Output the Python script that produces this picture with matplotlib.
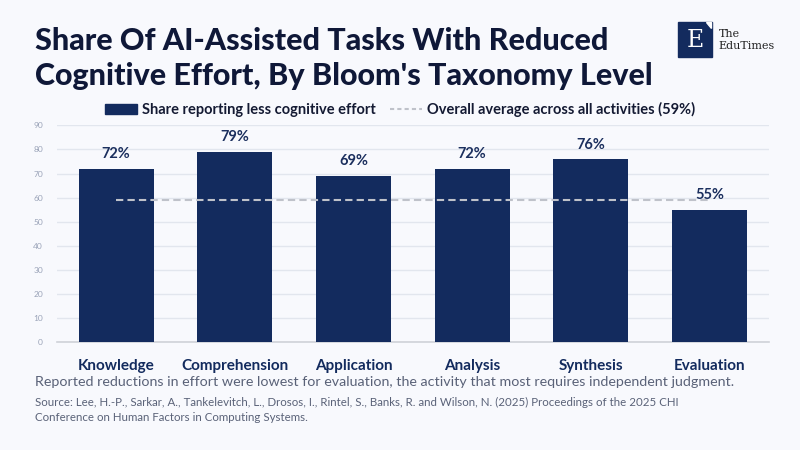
import matplotlib.pyplot as plt
from matplotlib.lines import Line2D
from matplotlib.patches import Patch, Rectangle, Polygon

categories = ["Knowledge", "Comprehension", "Application", "Analysis", "Synthesis", "Evaluation"]
shares = [72, 79, 69, 72, 76, 55]
average = 59
yticks = [0, 10, 20, 30, 40, 50, 60, 70, 80, 90]

title = "Share Of AI-Assisted Tasks With Reduced\nCognitive Effort, By Bloom's Taxonomy Level"
note = "Reported reductions in effort were lowest for evaluation, the activity that most requires independent judgment."
source = ("Source: Lee, H.-P., Sarkar, A., Tankelevitch, L., Drosos, I., Rintel, S., Banks, R. and Wilson, N. (2025) "
          "Proceedings of the 2025 CHI\nConference on Human Factors in Computing Systems.")

bg = "#f8f9fd"
navy = "#132b5e"
dark = "#0f1838"

plt.rcParams['font.family'] = ['Lato', 'DejaVu Sans']

fig = plt.figure(figsize=(8, 4.5), dpi=100, facecolor=bg)
ax = fig.add_axes([0.071, 0.239, 0.890, 0.4826])
ax.set_facecolor(bg)

x = list(range(len(categories)))
ax.bar(x, shares, width=0.63, color=navy, zorder=3)
ax.plot([x[0], x[-1]], [average, average], color="#bfc2ca", lw=1.5, ls=(0, (3.5, 2)), zorder=4)

for xi, v in zip(x, shares):
    ax.text(xi, v + 6, f"{v}%", ha="center", va="center", fontsize=10.5,
            fontweight="bold", color="#1b2f5e", zorder=5)

ax.set_xlim(-0.5, 5.5)
ax.set_ylim(0, 90)
ax.set_yticks(yticks)
ax.set_yticklabels([str(t) for t in yticks], fontsize=6, color="#9aa3b8")
ax.set_xticks(x)
ax.set_xticklabels(categories, fontsize=11, fontweight="bold", color=navy)
ax.tick_params(axis="y", length=0, pad=10)
ax.tick_params(axis="x", length=0, pad=12)
ax.grid(axis="y", color="#e2e6ee", lw=1, zorder=0)
for s in ["top", "right", "left"]:
    ax.spines[s].set_visible(False)
ax.spines["bottom"].set_color("#cfd2d8")
ax.spines["bottom"].set_linewidth(1.2)

handles = [Patch(color=navy, label="Share reporting less cognitive effort"),
           Line2D([0], [0], color="#bfc2ca", lw=1.5, ls=(0, (2, 1.5)),
                  label="Overall average across all activities (59%)")]
fig.legend(handles=handles, loc="center", bbox_to_anchor=(0.5, 0.757), ncol=2,
           frameon=False, handlelength=2.2, handleheight=0.7,
           handletextpad=0.3, columnspacing=1.0, prop={"weight": "bold", "size": 10.5},
           labelcolor="#141a33")

fig.text(0.044, 0.94, title, fontsize=22, fontweight="black", color=dark,
         va="top", ha="left", linespacing=1.3)
fig.text(0.044, 0.151, note, fontsize=10.3, color="#5a6278", va="center", ha="left")
fig.text(0.044, 0.117, source, fontsize=8.3, color="#5a6278", va="top", ha="left", linespacing=1.45)

# logo
fig.patches.append(Rectangle((0.8475, 0.873), 0.043, 0.078, transform=fig.transFigure,
                             color="#132b5e", zorder=5))
fig.patches.append(Polygon([(0.882, 0.951), (0.889, 0.951), (0.889, 0.938)], closed=True,
                           transform=fig.transFigure, color="white", zorder=6))
fig.text(0.869, 0.911, "E", fontsize=17, family="DejaVu Serif", color="white",
         ha="center", va="center", zorder=7)
fig.text(0.898, 0.925, "The", fontsize=8, family="DejaVu Serif", color="#222222",
         ha="left", va="center")
fig.text(0.898, 0.897, "EduTimes", fontsize=8, family="DejaVu Serif", color="#222222",
         ha="left", va="center")

fig.savefig("out.png", dpi=100, facecolor=bg)
